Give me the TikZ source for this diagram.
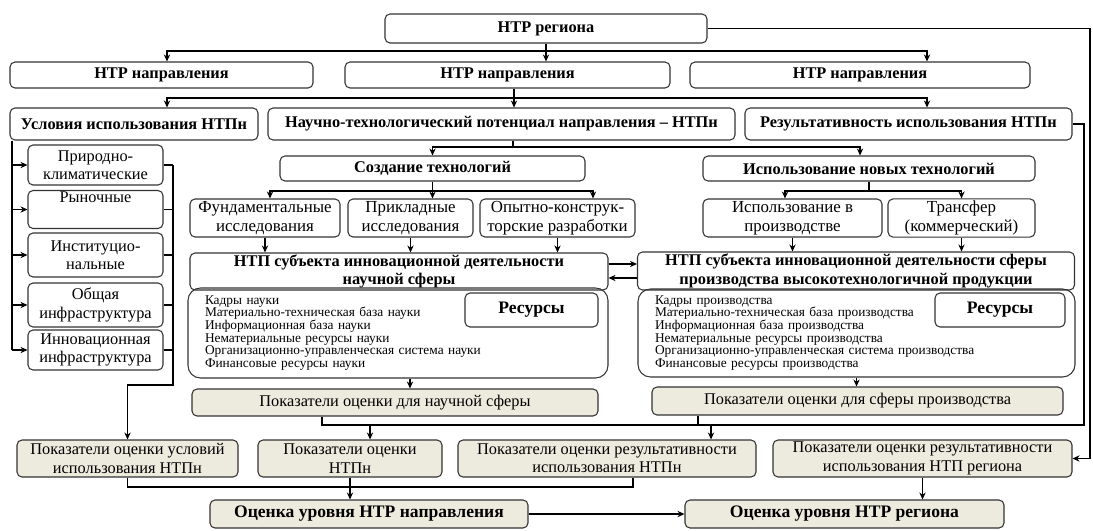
\documentclass[tikz,border=0pt]{standalone}
\usepackage{fontspec}
\setmainfont{Liberation Serif}
\usetikzlibrary{arrows.meta,positioning}
\definecolor{pokfill}{RGB}{237,234,222}
\tikzstyle{Box} = [draw=black!80, line width=0.6pt, rounded corners=1mm, align=center, inner sep=1pt, font=\fontsize{9.3}{10.4}\selectfont]
\tikzstyle{Head} = [Box, font=\fontsize{9.3}{10.4}\selectfont\bfseries]
\tikzstyle{Tech} = [Box, font=\fontsize{9.6}{11}\selectfont]
\tikzstyle{Pok} = [Box, fill=pokfill]
\tikzstyle{List} = [Box, rounded corners=2.5mm, align=left, inner ysep=1pt, font=\fontsize{7.6}{7.2}\selectfont]

\begin{document}
\begin{tikzpicture}[x=0.2mm, y=-0.2mm, >={Stealth[length=4pt,width=3.6pt]}, line width=0.6pt]
    \useasboundingbox (0,0) rectangle (1093,530);
    % top levels
    \node[Head, minimum width=64.4mm, minimum height=5.8mm] (reg)   at (546,28.5)  {НТР региона};
    \node[Head, minimum width=60.6mm, minimum height=5.2mm] (napr1) at (161.5,75)  {НТР направления};
    \node[Head, minimum width=65mm,   minimum height=5.2mm] (napr2) at (507.5,75)  {НТР направления};
    \node[Head, minimum width=68mm,   minimum height=5.2mm] (napr3) at (860,75)    {НТР направления};
    \node[Head, minimum width=49.6mm, minimum height=6.4mm] (usl)   at (134,124)   {Условия использования НТПн};
    \node[Head, minimum width=93.4mm, minimum height=6.4mm] (ntpn)  at (501.5,124) {Научно-технологический потенциал направления – НТПн};
    \node[Head, minimum width=65.4mm, minimum height=6.4mm] (rez)   at (908.5,124) {Результативность использования НТПн};
    % conditions
    \node[Box, minimum width=27mm, minimum height=8mm]   (f1) at (95.5,165)   {Природно-\\климатические};
    \node[Box, minimum width=27mm, minimum height=7.4mm] (f2) at (95.5,209.5) {Рыночные\\\strut};
    \node[Box, minimum width=27mm, minimum height=8.8mm] (f3) at (95.5,255)   {Институцио-\\нальные};
    \node[Box, minimum width=27mm, minimum height=8.8mm] (f4) at (95.5,305)   {Общая\\инфраструктура};
    \node[Box, minimum width=27mm, minimum height=8mm]   (f5) at (95.5,350)   {Инновационная\\инфраструктура};
    % technologies
    \node[Head, minimum width=61mm,   minimum height=5mm] (soz) at (432.5,168.5) {Создание технологий};
    \node[Head, minimum width=66.4mm, minimum height=5mm] (isp) at (869,168.5)   {Использование новых технологий};
    \node[Tech, minimum width=30mm,   minimum height=7.6mm] (fund)      at (265,218)   {Фундаментальные\\исследования};
    \node[Tech, minimum width=25mm,   minimum height=7.6mm] (prikl)     at (410.5,218) {Прикладные\\исследования};
    \node[Tech, minimum width=31mm,   minimum height=7.6mm] (okr)       at (557.5,218) {Опытно-конструк-\\торские разработки};
    \node[Tech, minimum width=35.8mm, minimum height=7.6mm] (ispproizv) at (792.5,218) {Использование в\\производстве};
    \node[Tech, minimum width=29.4mm, minimum height=7.6mm] (transf)    at (961.5,218) {Трансфер\\(коммерческий)};
    % subjects
    \node[Head, minimum width=83.6mm, minimum height=7.4mm] (ntpnauk)   at (399,271.5) {НТП субъекта инновационной деятельности\\научной сферы};
    \node[Head, minimum width=87.4mm, minimum height=7.6mm] (ntpproizv) at (856,271)   {НТП субъекта инновационной деятельности сферы\\производства высокотехнологичной продукции};
    % resources
    \node[List, text width=77.2mm, minimum height=18mm, inner xsep=3.4mm] (resnauk) at (398,333)
        {Кадры науки\\Материально-техническая база науки\\Информационная база науки\\Нематериальные ресурсы науки\\Организационно-управленческая система науки\\Финансовые ресурсы науки};
    \node[List, text width=80.6mm, minimum height=17.6mm, inner xsep=3.4mm] (resproizv) at (856.5,333)
        {Кадры производства\\Материально-техническая база производства\\Информационная база производства\\Нематериальные ресурсы производства\\Организационно-управленческая система производства\\Финансовые ресурсы производства};
    \node[Head, font=\fontsize{10}{11}\selectfont\bfseries, minimum width=26.6mm, minimum height=6.8mm] (resl1) at (531.5,310) {Ресурсы};
    \node[Head, font=\fontsize{10}{11}\selectfont\bfseries, minimum width=26mm,   minimum height=6.8mm] (resl2) at (1000,310)  {Ресурсы};
    % indicators
    \node[Pok, minimum width=81.2mm, minimum height=5.4mm] (poknauk)   at (395,402.5)   {Показатели оценки для научной сферы};
    \node[Pok, minimum width=82.2mm, minimum height=5.6mm] (pokproizv) at (857.5,401)   {Показатели оценки для сферы производства};
    \node[Pok, minimum width=44.2mm, minimum height=7.4mm] (pokusl)    at (127.5,458.5) {Показатели оценки условий\\использования НТПн};
    \node[Pok, minimum width=36.8mm, minimum height=7.4mm] (pokntpn)   at (350,458.5)   {Показатели оценки\\НТПн};
    \node[Pok, minimum width=59.6mm, minimum height=7.4mm] (pokrez)    at (607,458.5)   {Показатели оценки результативности\\использования НТПн};
    \node[Pok, minimum width=59.8mm, minimum height=7.4mm] (pokreg)    at (922.5,458.5) {Показатели оценки результативности\\использования НТП региона};
    \node[Pok, font=\fontsize{10}{11}\selectfont\bfseries, minimum width=63.6mm, minimum height=5.6mm] (ocnapr) at (369,514)   {Оценка уровня НТР направления};
    \node[Pok, font=\fontsize{10}{11}\selectfont\bfseries, minimum width=63.8mm, minimum height=5.6mm] (ocreg)  at (844.5,514) {Оценка уровня НТР региона};

    % helper levels
    \coordinate (bus1) at (0,51);
    \coordinate (bus2) at (0,98);
    \coordinate (bus3) at (0,147);
    \coordinate (bus4) at (0,191);
    \coordinate (bus5) at (0,385);
    \coordinate (bus6) at (0,425);
    \coordinate (bus7) at (0,487);
    \coordinate (lv) at (12,0);
    \coordinate (rv) at (173,0);
    \coordinate (ri) at (1084,0);
    \coordinate (rr) at (1090,0);

    % region -> directions
    \draw[->] (reg.south) -- (reg.south |- napr2.north);
    \draw[->] (reg.south |- bus1) -| ([xshift=1.1mm]napr1.north);
    \draw[->] (reg.south |- bus1) -| ([xshift=13.4mm]napr3.north);
    \draw[->] (reg.east) -| (rr |- pokreg.east) -- (pokreg.east);
    % direction -> conditions, potential, results
    \draw[->] ([xshift=1.3mm]napr2.south) -- ([xshift=1.3mm]napr2.south |- ntpn.north);
    \draw[->] ([xshift=1.3mm]napr2.south |- bus2) -| ([xshift=6.6mm]usl.north);
    \draw[->] ([xshift=1.3mm]napr2.south |- bus2) -| ([xshift=3.7mm]rez.north);
    % conditions column
    \draw (usl.south -| lv) -- (f5.west -| lv);
    \foreach \f in {f1,f2,f3,f4,f5} {
        \draw[->] (\f.west -| lv) -- (\f.west);
        \draw (\f.east) -- (\f.east -| rv);
    }
    \draw[->] (f1.east -| rv) -- (rv |- bus5) -| (pokusl.north);
    % potential -> technologies
    \draw ([xshift=2.3mm]ntpn.south) -- ([xshift=2.3mm]ntpn.south |- bus3);
    \draw[->] ([xshift=2.3mm]ntpn.south |- bus3) -| (soz.north);
    \draw[->] ([xshift=2.3mm]ntpn.south |- bus3) -| ([xshift=-1.8mm]isp.north);
    \draw[->] (soz.south) -- (soz.south |- prikl.north);
    \draw[->] (soz.south |- bus4) -| ([xshift=1mm]fund.north);
    \draw[->] (soz.south |- bus4) -| ([xshift=7.1mm]okr.north);
    \draw (isp.south) -- (isp.south |- bus4);
    \draw[->] (isp.south |- bus4) -| ([xshift=-1.5mm]ispproizv.north);
    \draw[->] (isp.south |- bus4) -| (transf.north);
    \foreach \f in {fund,prikl,okr}
        \draw[->] (\f.south) -- (\f.south |- ntpnauk.north);
    \foreach \f in {ispproizv,transf}
        \draw[->] (\f.south) -- (\f.south |- ntpproizv.north);
    \draw[->] ([yshift=1.5mm]ntpnauk.east) -- ([yshift=1.5mm]ntpnauk.east -| ntpproizv.west);
    \draw[<-] ([yshift=-1.3mm]ntpnauk.east) -- ([yshift=-1.3mm]ntpnauk.east -| ntpproizv.west);
    % resources -> indicators
    \draw[->] ([xshift=2.4mm]resnauk.south) -- ([xshift=2.4mm]resnauk.south |- poknauk.north);
    \draw[->] (resproizv.south) -- (resproizv.south |- pokproizv.north);
    \draw ([xshift=-14.6mm]poknauk.south) |- (ri |- bus6) |- (rez.east);
    \draw ([xshift=-31.9mm]pokproizv.south) -- ([xshift=-31.9mm]pokproizv.south |- bus6);
    \draw[->] ([xshift=4mm]pokntpn.north |- bus6) -- ([xshift=4mm]pokntpn.north);
    \draw[->] ([xshift=20.8mm]pokrez.north |- bus6) -- ([xshift=20.8mm]pokrez.north);
    % assessment
    \draw (pokusl.south) |- ([xshift=5.2mm]pokrez.south |- bus7) -- ([xshift=5.2mm]pokrez.south);
    \draw[->] (pokntpn.south) -- (pokntpn.south |- ocnapr.north);
    \draw[->] (ocnapr.east) -- (ocreg.west);
    \draw[->] (pokreg.south) -- (pokreg.south |- ocreg.north);
\end{tikzpicture}
\end{document}
